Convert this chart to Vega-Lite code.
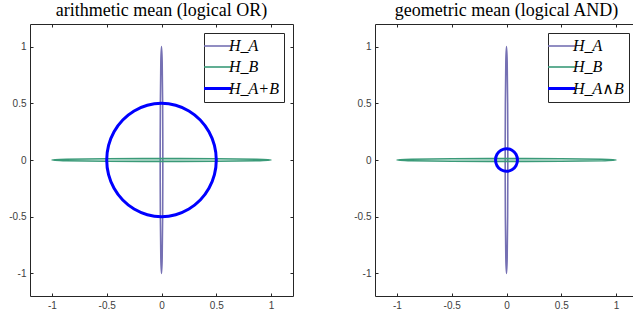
{
  "$schema": "https://vega.github.io/schema/vega-lite/v6.json",
  "padding": {"left": 8, "top": 1, "right": 0, "bottom": 0},
  "spacing": 59,
  "datasets": {
    "pts": [
      {"panel": "both", "series": "H_A", "i": 0, "x": 0.012, "y": 0},
      {"panel": "both", "series": "H_A", "i": 1, "x": 0.0104, "y": 0.5},
      {"panel": "both", "series": "H_A", "i": 2, "x": 0.006, "y": 0.866},
      {"panel": "both", "series": "H_A", "i": 3, "x": 0, "y": 1},
      {"panel": "both", "series": "H_A", "i": 4, "x": -0.006, "y": 0.866},
      {"panel": "both", "series": "H_A", "i": 5, "x": -0.0104, "y": 0.5},
      {"panel": "both", "series": "H_A", "i": 6, "x": -0.012, "y": 0},
      {"panel": "both", "series": "H_A", "i": 7, "x": -0.0104, "y": -0.5},
      {"panel": "both", "series": "H_A", "i": 8, "x": -0.006, "y": -0.866},
      {"panel": "both", "series": "H_A", "i": 9, "x": 0, "y": -1},
      {"panel": "both", "series": "H_A", "i": 10, "x": 0.006, "y": -0.866},
      {"panel": "both", "series": "H_A", "i": 11, "x": 0.0104, "y": -0.5},
      {"panel": "both", "series": "H_B", "i": 0, "x": 1, "y": 0},
      {"panel": "both", "series": "H_B", "i": 1, "x": 0.866, "y": 0.006},
      {"panel": "both", "series": "H_B", "i": 2, "x": 0.5, "y": 0.0104},
      {"panel": "both", "series": "H_B", "i": 3, "x": 0, "y": 0.012},
      {"panel": "both", "series": "H_B", "i": 4, "x": -0.5, "y": 0.0104},
      {"panel": "both", "series": "H_B", "i": 5, "x": -0.866, "y": 0.006},
      {"panel": "both", "series": "H_B", "i": 6, "x": -1, "y": 0},
      {"panel": "both", "series": "H_B", "i": 7, "x": -0.866, "y": -0.006},
      {"panel": "both", "series": "H_B", "i": 8, "x": -0.5, "y": -0.0104},
      {"panel": "both", "series": "H_B", "i": 9, "x": 0, "y": -0.012},
      {"panel": "both", "series": "H_B", "i": 10, "x": 0.5, "y": -0.0104},
      {"panel": "both", "series": "H_B", "i": 11, "x": 0.866, "y": -0.006},
      {"panel": "or", "series": "H_A+B", "i": 0, "x": 0.5, "y": 0},
      {"panel": "or", "series": "H_A+B", "i": 1, "x": 0.483, "y": 0.1294},
      {"panel": "or", "series": "H_A+B", "i": 2, "x": 0.433, "y": 0.25},
      {"panel": "or", "series": "H_A+B", "i": 3, "x": 0.3536, "y": 0.3536},
      {"panel": "or", "series": "H_A+B", "i": 4, "x": 0.25, "y": 0.433},
      {"panel": "or", "series": "H_A+B", "i": 5, "x": 0.1294, "y": 0.483},
      {"panel": "or", "series": "H_A+B", "i": 6, "x": 0, "y": 0.5},
      {"panel": "or", "series": "H_A+B", "i": 7, "x": -0.1294, "y": 0.483},
      {"panel": "or", "series": "H_A+B", "i": 8, "x": -0.25, "y": 0.433},
      {"panel": "or", "series": "H_A+B", "i": 9, "x": -0.3536, "y": 0.3536},
      {"panel": "or", "series": "H_A+B", "i": 10, "x": -0.433, "y": 0.25},
      {"panel": "or", "series": "H_A+B", "i": 11, "x": -0.483, "y": 0.1294},
      {"panel": "or", "series": "H_A+B", "i": 12, "x": -0.5, "y": 0},
      {"panel": "or", "series": "H_A+B", "i": 13, "x": -0.483, "y": -0.1294},
      {"panel": "or", "series": "H_A+B", "i": 14, "x": -0.433, "y": -0.25},
      {"panel": "or", "series": "H_A+B", "i": 15, "x": -0.3536, "y": -0.3536},
      {"panel": "or", "series": "H_A+B", "i": 16, "x": -0.25, "y": -0.433},
      {"panel": "or", "series": "H_A+B", "i": 17, "x": -0.1294, "y": -0.483},
      {"panel": "or", "series": "H_A+B", "i": 18, "x": 0, "y": -0.5},
      {"panel": "or", "series": "H_A+B", "i": 19, "x": 0.1294, "y": -0.483},
      {"panel": "or", "series": "H_A+B", "i": 20, "x": 0.25, "y": -0.433},
      {"panel": "or", "series": "H_A+B", "i": 21, "x": 0.3536, "y": -0.3536},
      {"panel": "or", "series": "H_A+B", "i": 22, "x": 0.433, "y": -0.25},
      {"panel": "or", "series": "H_A+B", "i": 23, "x": 0.483, "y": -0.1294},
      {"panel": "and", "series": "H_A∧B", "i": 0, "x": 0.1, "y": 0},
      {"panel": "and", "series": "H_A∧B", "i": 1, "x": 0.0866, "y": 0.05},
      {"panel": "and", "series": "H_A∧B", "i": 2, "x": 0.05, "y": 0.0866},
      {"panel": "and", "series": "H_A∧B", "i": 3, "x": 0, "y": 0.1},
      {"panel": "and", "series": "H_A∧B", "i": 4, "x": -0.05, "y": 0.0866},
      {"panel": "and", "series": "H_A∧B", "i": 5, "x": -0.0866, "y": 0.05},
      {"panel": "and", "series": "H_A∧B", "i": 6, "x": -0.1, "y": 0},
      {"panel": "and", "series": "H_A∧B", "i": 7, "x": -0.0866, "y": -0.05},
      {"panel": "and", "series": "H_A∧B", "i": 8, "x": -0.05, "y": -0.0866},
      {"panel": "and", "series": "H_A∧B", "i": 9, "x": 0, "y": -0.1},
      {"panel": "and", "series": "H_A∧B", "i": 10, "x": 0.05, "y": -0.0866},
      {"panel": "and", "series": "H_A∧B", "i": 11, "x": 0.0866, "y": -0.05}
    ]
  },
  "hconcat": [
    {
      "width": 263,
      "height": 272,
      "title": {"text": "arithmetic mean (logical OR)", "font": "'Liberation Serif', 'DejaVu Serif', serif", "fontSize": 18, "fontWeight": "normal", "color": "#000000", "frame": "group", "anchor": "middle", "offset": 4},
      "data": {"name": "pts"},
      "transform": [{"filter": "datum.panel == 'both' || datum.panel == 'or'"}],
      "layer": [
        {
          "mark": {"type": "line", "interpolate": "cardinal-closed"},
          "encoding": {
            "x": {"field": "x", "type": "quantitative", "scale": {"domain": [-1.2, 1.2], "nice": false, "zero": false}},
            "y": {"field": "y", "type": "quantitative", "scale": {"domain": [-1.2, 1.2], "nice": false, "zero": false}},
            "order": {"field": "i"},
            "color": {"field": "series", "type": "nominal", "scale": {"domain": ["H_A", "H_B", "H_A+B"], "range": ["#7570b3", "#3a9a78", "#0000ff"]}, "legend": {"title": null}},
            "strokeWidth": {"field": "series", "type": "nominal", "scale": {"type": "ordinal", "domain": ["H_A", "H_B", "H_A+B"], "range": [1.6, 1.6, 3]}, "legend": {"title": null}}
          }
        },
        {
          "mark": {"type": "point", "opacity": 0},
          "encoding": {
            "x": {"field": "x", "type": "quantitative", "axis": {"orient": "top", "labels": false}},
            "y": {"field": "y", "type": "quantitative", "axis": {"orient": "right", "labels": false}}
          }
        }
      ],
      "resolve": {"axis": {"x": "independent", "y": "independent"}}
    },
    {
      "width": 263,
      "height": 272,
      "title": {"text": "geometric mean (logical AND)", "font": "'Liberation Serif', 'DejaVu Serif', serif", "fontSize": 18, "fontWeight": "normal", "color": "#000000", "frame": "group", "anchor": "middle", "offset": 4},
      "data": {"name": "pts"},
      "transform": [{"filter": "datum.panel == 'both' || datum.panel == 'and'"}],
      "layer": [
        {
          "mark": {"type": "line", "interpolate": "cardinal-closed"},
          "encoding": {
            "x": {"field": "x", "type": "quantitative", "scale": {"domain": [-1.2, 1.2], "nice": false, "zero": false}},
            "y": {"field": "y", "type": "quantitative", "scale": {"domain": [-1.2, 1.2], "nice": false, "zero": false}},
            "order": {"field": "i"},
            "color": {"field": "series", "type": "nominal", "scale": {"domain": ["H_A", "H_B", "H_A∧B"], "range": ["#7570b3", "#3a9a78", "#0000ff"]}, "legend": {"title": null}},
            "strokeWidth": {"field": "series", "type": "nominal", "scale": {"type": "ordinal", "domain": ["H_A", "H_B", "H_A∧B"], "range": [1.6, 1.6, 3]}, "legend": {"title": null}}
          }
        },
        {
          "mark": {"type": "point", "opacity": 0},
          "encoding": {
            "x": {"field": "x", "type": "quantitative", "axis": {"orient": "top", "labels": false}},
            "y": {"field": "y", "type": "quantitative", "axis": {"orient": "right", "labels": false}}
          }
        }
      ],
      "resolve": {"axis": {"x": "independent", "y": "independent"}}
    }
  ],
  "resolve": {"scale": {"color": "independent", "strokeWidth": "independent"}, "legend": {"color": "independent", "strokeWidth": "independent"}},
  "config": {
    "view": {"stroke": "#262626", "strokeWidth": 1},
    "title": {"font": "'Liberation Serif', 'DejaVu Serif', serif", "fontSize": 18, "fontWeight": "normal", "color": "#000000", "frame": "group", "anchor": "middle", "offset": 4},
    "axis": {
      "values": [-1, -0.5, 0, 0.5, 1],
      "labelExpr": "datum.value == 0 ? '0' : (datum.value < 0 ? '-' : '') + abs(datum.value)",
      "tickSize": -3,
      "labelPadding": 7,
      "tickColor": "#262626",
      "tickWidth": 1,
      "labelFont": "Liberation Sans",
      "labelFontSize": 10,
      "labelColor": "#404040",
      "domain": false,
      "grid": false,
      "title": null
    },
    "legend": {
      "orient": "top-right",
      "offset": 9,
      "strokeColor": "#262626",
      "fillColor": "#ffffff",
      "padding": 5,
      "symbolType": "M-2,0L2,0",
      "symbolSize": 182,
      "labelFont": "'Liberation Serif', 'DejaVu Serif', serif",
      "labelFontStyle": "italic",
      "labelFontSize": 16,
      "labelColor": "#000000",
      "labelOffset": 3,
      "rowPadding": 5,
      "cornerRadius": 0
    }
  }
}
